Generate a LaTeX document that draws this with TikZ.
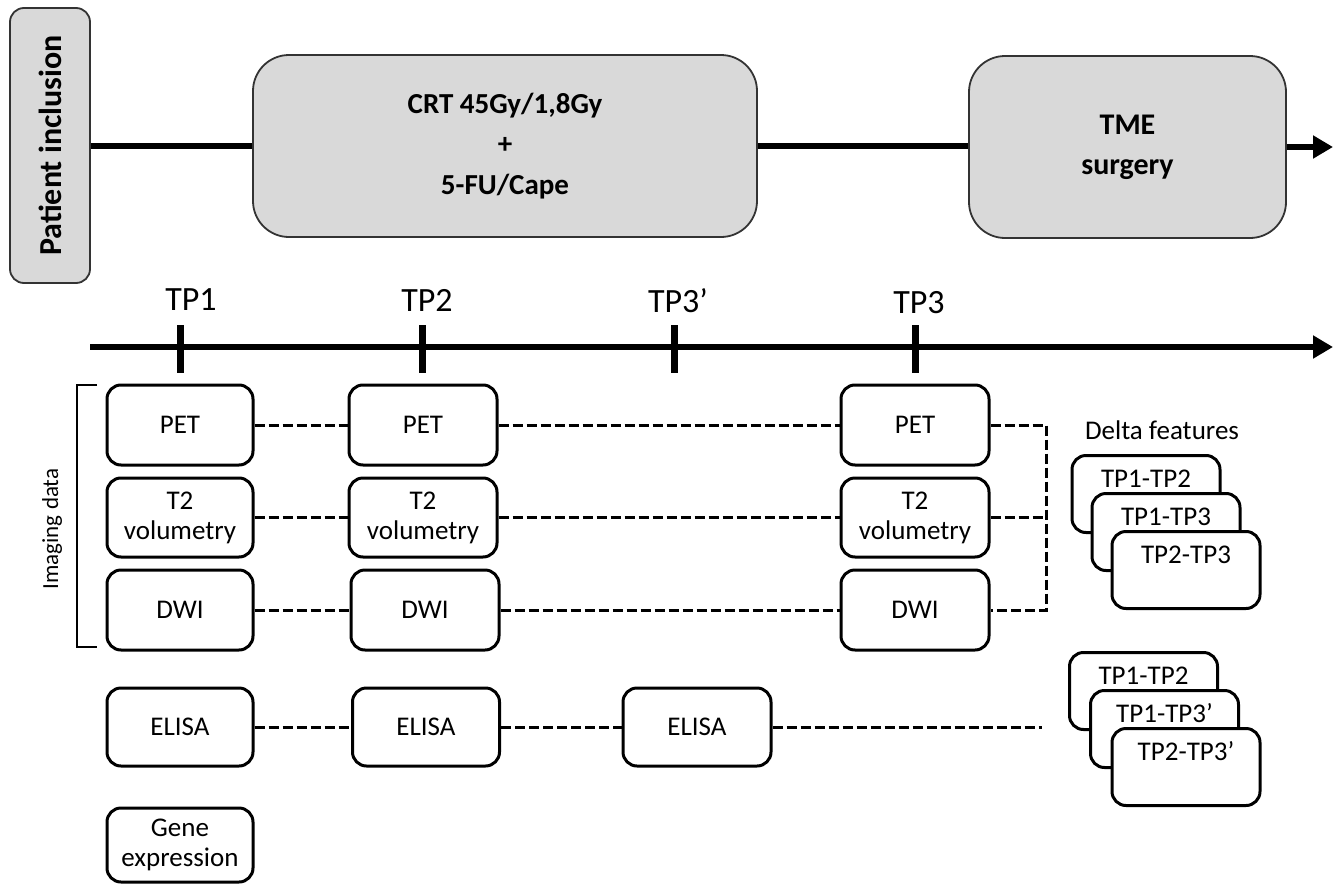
\documentclass[tikz,border=0pt]{standalone}
\usepackage{fontspec}
\setmainfont{Carlito}
\usetikzlibrary{arrows.meta,calc}
\definecolor{boxgray}{HTML}{D9D9D9}
\definecolor{edgegray}{HTML}{333333}
\begin{document}
\begin{tikzpicture}[x=1pt,y=-1pt,
  bigbox/.style={draw=edgegray, line width=1.8pt, fill=boxgray, rounded corners=36pt,
    inner sep=0pt, align=center, font=\bfseries\fontsize{29}{40.5}\selectfont},
  sbox/.style={draw, line width=3pt, rounded corners=14pt, fill=white,
    inner sep=0pt, align=center, font=\fontsize{27}{30}\selectfont},
  stackbox/.style={draw, line width=3pt, rounded corners=14pt, fill=white,
    inner xsep=0pt, inner ysep=0pt, minimum width=148pt, text height=32pt, text depth=45pt,
    font=\fontsize{27}{30}\selectfont},
  thickline/.style={line width=6.5pt},
  tickmark/.style={line width=7pt},
  dline/.style={line width=3pt, dash pattern=on 10pt off 4pt},
  tplabel/.style={font=\fontsize{34}{40}\selectfont, inner sep=0pt},
  tipstyle/.style={-{Triangle[length=20pt,width=22pt]}}
]
\useasboundingbox (0,0) rectangle (1339,886);

% ---- top row ----
\node[bigbox, rounded corners=14pt, minimum width=275pt, minimum height=80pt, rotate=90,
  font=\bfseries\fontsize{32}{36}\selectfont] (pi) at (50,145.5) {Patient inclusion};
\node[bigbox, minimum width=504pt, minimum height=182pt] (crt) at (505,146)
  {CRT 45Gy/1,8Gy\\+\\5-FU/Cape};
\node[bigbox, minimum width=317pt, minimum height=182pt, font=\bfseries\fontsize{30}{40}\selectfont] (tme) at (1127.5,147)
  {TME\\surgery};
\coordinate (end1) at (1333,147);
\draw[thickline] (pi.south |- crt.west) -- (crt.west);
\draw[thickline] (crt.east) -- (crt.east -| tme.west);
\draw[thickline, tipstyle] (tme.east |- end1) -- (end1);

% ---- timeline ----
\coordinate (tl0) at (90,347);
\coordinate (tl1) at (1333,347);
\draw[thickline, tipstyle] (tl0) -- (tl1);
\coordinate (k1) at (180,349);
\coordinate (k2) at (422,349);
\coordinate (k3p) at (674,349);
\coordinate (k3) at (915,349);
\foreach \k in {k1,k2,k3p,k3}{
  \draw[tickmark] ($(\k)+(0,-24)$) -- ($(\k)+(0,24)$);
}
\node[tplabel] (tp1) at (191,300) {TP1};
\node[tplabel] (tp2) at (427,300) {TP2};
\node[tplabel] (tp3p) at (678,301) {TP3’};
\node[tplabel] (tp3) at (919,303) {TP3};

% ---- imaging data bracket ----
\draw[line width=2.5pt] (97,385) -- (77,385) -- (77,647) -- (97,647);
\node[rotate=90, font=\fontsize{23}{26}\selectfont, inner sep=0pt] (imgd) at (52,529) {Imaging data};

% ---- boxes ----
\node[sbox, minimum width=146pt, minimum height=80pt] (pet1) at (180,425) {PET};
\node[sbox, minimum width=146pt, minimum height=79pt] (t21) at (180,517.5) {T2\\volumetry};
\node[sbox, minimum width=146pt, minimum height=80pt] (dwi1) at (180,610) {DWI};

\node[sbox, minimum width=148pt, minimum height=80pt] (pet2) at (423,425) {PET};
\node[sbox, minimum width=148pt, minimum height=79pt] (t22) at (423,517.5) {T2\\volumetry};
\node[sbox, minimum width=148pt, minimum height=80pt] (dwi2) at (425,610) {DWI};

\node[sbox, minimum width=148pt, minimum height=80pt] (pet3) at (915,425) {PET};
\node[sbox, minimum width=148pt, minimum height=79pt] (t23) at (915,517.5) {T2\\volumetry};
\node[sbox, minimum width=148pt, minimum height=80pt] (dwi3) at (915,610) {DWI};

\node[sbox, minimum width=146pt, minimum height=78pt] (eli1) at (180,727) {ELISA};
\node[sbox, minimum width=147pt, minimum height=78pt] (eli2) at (426,727) {ELISA};
\node[sbox, minimum width=148pt, minimum height=78pt] (eli3) at (697,727) {ELISA};

\node[sbox, minimum width=146pt, minimum height=74pt] (gene) at (180,845) {Gene\\expression};

% ---- dashed connectors ----
\coordinate (jx) at (1046,0);
\coordinate (eend) at (1042,727);
\draw[dline] (pet1.east) -- (pet2.west);
\draw[dline] (pet2.east) -- (pet3.west);
\draw[dline] (t21.east) -- (t22.west);
\draw[dline] (t22.east) -- (t23.west);
\draw[dline] (dwi1.east) -- (dwi2.west);
\draw[dline] (dwi2.east) -- (dwi3.west);
\draw[dline] (pet3.east) -- (pet3.east -| jx) |- (dwi3.east);
\draw[dline] (t23.east) -- (t23.east -| jx);
\draw[dline] (eli1.east) -- (eli2.west);
\draw[dline] (eli2.east) -- (eli3.west);
\draw[dline] (eli3.east) -- (eend);

% ---- delta features ----
\node[font=\fontsize{27}{30}\selectfont, inner sep=0pt] (delta) at (1162,430) {Delta features};
\node[stackbox, anchor=north] (da) at (1146,454) {TP1-TP2};
\node[stackbox, anchor=north] (db) at (1166,492) {TP1-TP3};
\node[stackbox, anchor=north] (dc) at (1186,530) {TP2-TP3};

\node[stackbox, anchor=north] (ea) at (1143.5,651) {TP1-TP2};
\node[stackbox, anchor=north] (eb) at (1164.5,689) {TP1-TP3’};
\node[stackbox, anchor=north] (ec) at (1186,727) {TP2-TP3’};
\end{tikzpicture}
\end{document}
